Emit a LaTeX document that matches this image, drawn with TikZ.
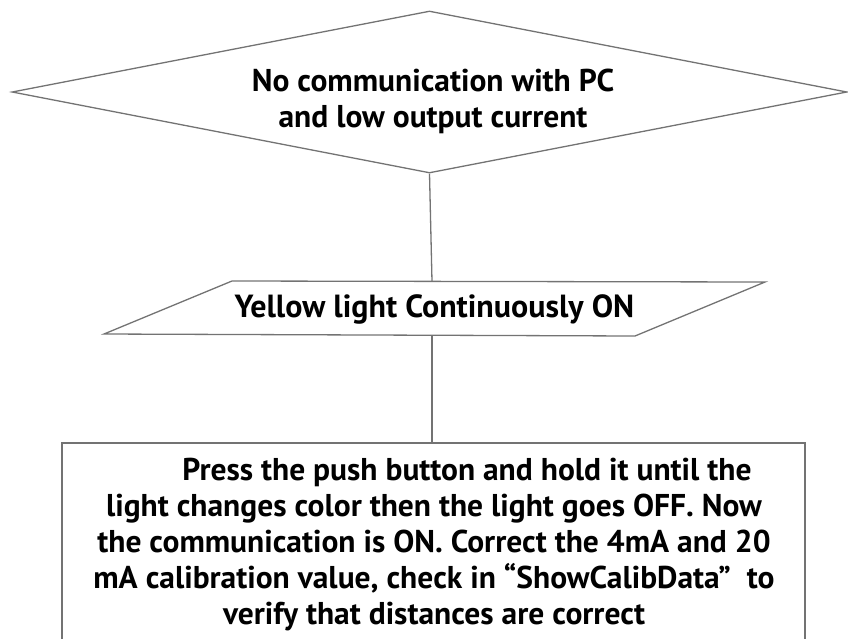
\documentclass[tikz,border=0pt]{standalone}
\usepackage{fontspec}
\setmainfont{PT Sans}
\usetikzlibrary{shapes.geometric}
\tikzset{
  edge/.style={draw=black!55, line width=1.3pt},
  lbl/.style={font=\bfseries, text=black, align=center, inner sep=0pt},
  decision/.style={diamond, draw=black!55, line width=1.3pt, minimum width=835pt, minimum height=162pt, inner sep=0pt},
}
\begin{document}
\begin{tikzpicture}[x=1pt,y=-1pt]
\useasboundingbox (0,0) rectangle (848,638);
\clip (0,0) rectangle (848,638);
% decision
\node[decision] (q) at (429.5,92) {};
\node[lbl, font=\bfseries\fontsize{31.5}{36}\selectfont] (qt) at (433,101) {No communication with PC\\and low output current};
% parallelogram
\coordinate (ptl) at (232,281);
\coordinate (ptr) at (765,282);
\coordinate (pbr) at (635,336);
\coordinate (pbl) at (104,334);
\draw[edge, line join=miter] (ptl) -- (ptr) -- (pbr) -- (pbl) -- cycle;
\node[lbl, font=\bfseries\fontsize{32}{36}\selectfont] (pt) at (434.5,309) {Yellow light Continuously ON};
\coordinate (ptop) at (432,281.5);
\coordinate (pbot) at (432,335);
% action box
\coordinate (rtl) at (62,443);
\coordinate (rtr) at (805,443);
\draw[edge] (62,720) -- (rtl) -- (rtr) -- (805,720);
\coordinate (rtop) at (432,443);
\node[lbl, font=\bfseries\fontsize{31.5}{36}\selectfont, anchor=north] (rt) at (434,458) {\hspace*{66pt}Press the push button and hold it until the\\
light changes color then the light goes OFF. Now\\
the communication is ON. Correct the 4mA and 20\\
mA calibration value, check in “ShowCalibData”~ to\\
verify that distances are correct};
% connectors
\draw[edge] (q.south) -- (ptop);
\draw[edge] (pbot) -- (rtop);
\end{tikzpicture}
\end{document}
